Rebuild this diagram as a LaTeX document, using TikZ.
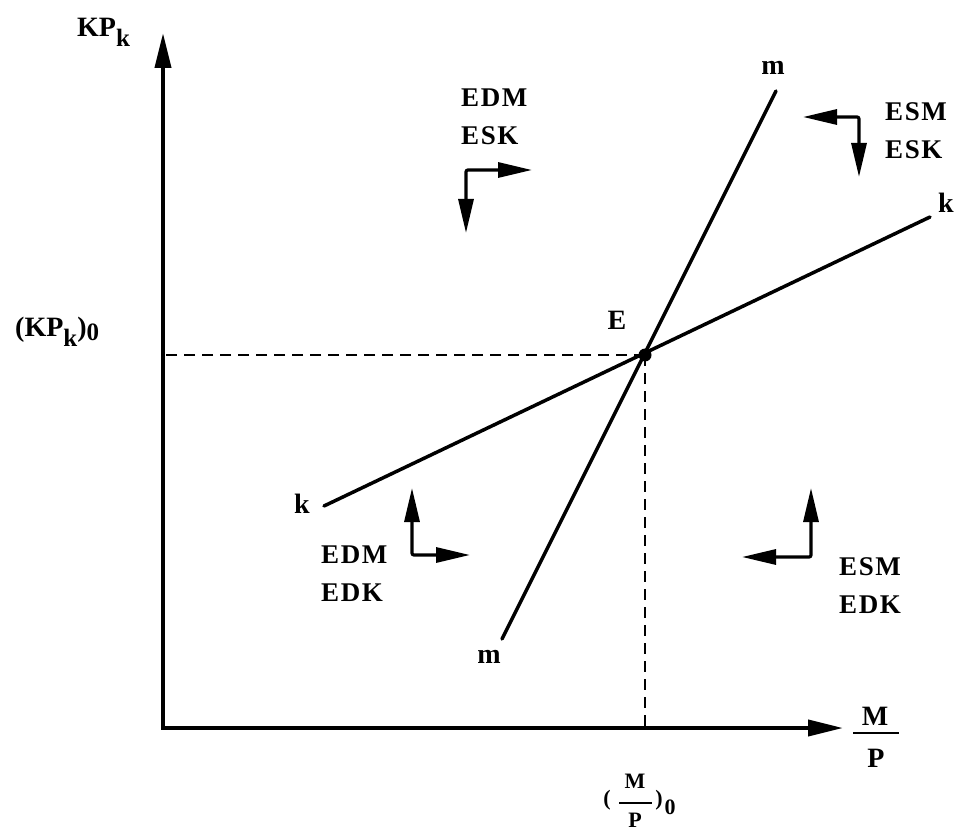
\documentclass[tikz,border=0pt]{standalone}
\usepackage{fontspec}
\setmainfont{Liberation Serif}
\newfontfamily\labfont[LetterSpace=6]{Liberation Serif}
\usetikzlibrary{arrows.meta}
\tikzset{
  axis/.style={line width=4pt, {Triangle[length=35pt,width=16pt]}-{Triangle[length=35pt,width=16pt]}},
  curve/.style={line width=3.5pt, line cap=round},
  guide/.style={line width=2pt, dash pattern=on 11pt off 7pt},
  qarrow/.style={line width=3.2pt, rounded corners=2pt, {Triangle[length=34pt,width=15pt]}-{Triangle[length=34pt,width=15pt]}},
  lbl/.style={font=\labfont\bfseries\fontsize{27}{38}\selectfont, inner sep=0pt, align=left},
  big/.style={font=\bfseries\fontsize{28}{30}\selectfont, inner sep=0pt},
  small/.style={font=\bfseries\fontsize{22}{24}\selectfont, inner sep=0pt},
  eqdot/.style={circle, fill=black, inner sep=0pt, minimum size=13pt},
}
\begin{document}
\begin{tikzpicture}[x=1pt,y=-1pt]
\useasboundingbox (0,0) rectangle (956,834);
% axes
\coordinate (O) at (163,728);
\coordinate (ytip) at (163,33);
\coordinate (xtip) at (843,728);
\draw[axis] (ytip) -- (O) -- (xtip);
% equilibrium
\node[eqdot] (E) at (645,355) {};
\draw[guide] (E.center) -- (E.center -| O);
\draw[guide] (E.center) -- (E.center |- O);
% curves
\coordinate (m1) at (502,639);
\coordinate (m2) at (776,91);
\coordinate (k1) at (324,506);
\coordinate (k2) at (930,217);
\draw[curve] (m1) -- (m2);
\draw[curve] (k1) -- (k2);
% curve labels
\node[big] (mtop) at (773,68) {m};
\node[big] (mbot) at (489,657) {m};
\node[big] (kleft) at (302,504) {k};
\node[big] (kright) at (946,203) {k};
\node[big] (Elab) at (617,320) {E};
% axis labels
\node[big, anchor=base west] (ylab) at (77,37) {KP\raisebox{-10pt}{\fontsize{25}{26}\selectfont k}};
\node[big, anchor=base west] (y0lab) at (15,337) {(KP\raisebox{-10pt}{\fontsize{25}{26}\selectfont k})\raisebox{-4pt}{\fontsize{25}{26}\selectfont 0}};
\node[big] (xM) at (875,716) {M};
\draw[line width=1.8pt] (853,733) -- (899,733);
\node[big] (xP) at (876,758) {P};
\node[small] (x0M) at (635,781) {M};
\draw[line width=1.6pt] (619,803) -- (652,803);
\node[small] (x0P) at (635,820) {P};
\node[small] (x0l) at (607,800) {(};
\node[small] (x0r) at (659,800) {)};
\node[small] (x0z) at (670,807) {0};
% quadrant labels
\node[lbl, anchor=west] (q1) at (461,117) {EDM\\ESK};
\node[lbl, anchor=west] (q2) at (885,131) {ESM\\ESK};
\node[lbl, anchor=west] (q3) at (321,574) {EDM\\EDK};
\node[lbl, anchor=west] (q4) at (839,586) {ESM\\EDK};
% quadrant arrows
\coordinate (a1c) at (466,170);
\coordinate (a1h) at (532,170);
\coordinate (a1v) at (466,233);
\draw[qarrow] (a1h) -- (a1c) -- (a1v);
\coordinate (a2c) at (859,117);
\coordinate (a2h) at (803,117);
\coordinate (a2v) at (859,177);
\draw[qarrow] (a2h) -- (a2c) -- (a2v);
\coordinate (a3c) at (412,555);
\coordinate (a3h) at (470,555);
\coordinate (a3v) at (412,488);
\draw[qarrow] (a3h) -- (a3c) -- (a3v);
\coordinate (a4c) at (811,557);
\coordinate (a4h) at (742,557);
\coordinate (a4v) at (811,488);
\draw[qarrow] (a4h) -- (a4c) -- (a4v);
\end{tikzpicture}
\end{document}
